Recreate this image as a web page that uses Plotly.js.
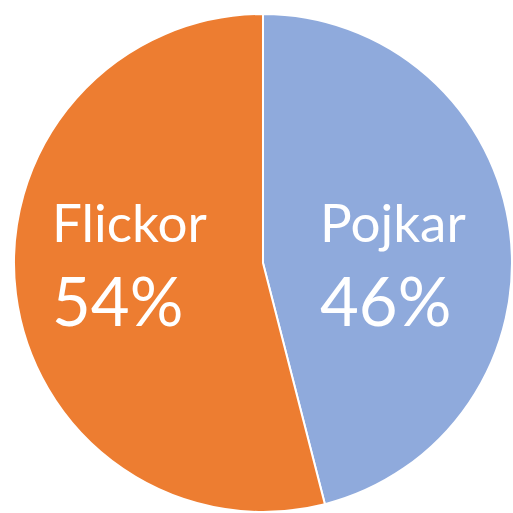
<!DOCTYPE html>
<html>
<head>
<meta charset="utf-8">
<script src="https://cdn.plot.ly/plotly-3.0.1.min.js"></script>
<style>
  html, body { margin: 0; padding: 0; background: #fff; }
  #chart { width: 513px; height: 513px; }
</style>
</head>
<body>
<div id="chart"></div>
<script>
const labels = ["Pojkar", "Flickor"];
const values = [46, 54];
const colors = ["#8FAADC", "#ED7D31"];

// left edge of each slice's text block (paper coords)
const textX = [0.6198, 0.0984];

let pie = {
  type: "pie",
  labels: labels,
  values: values,
  sort: false,
  direction: "clockwise",
  rotation: 0,
  marker: {
    colors: colors,
    line: { color: "#ffffff", width: 2 },
  },
  textinfo: "none",
  hoverinfo: "none",
  domain: { x: [0.0273, 0.998], y: [0.002, 0.9727] },
};

let annotations = [];
for (let i = 0; i < labels.length; i++) {
  // label line
  annotations.push({
    xref: "paper",
    yref: "paper",
    x: textX[i],
    y: 0.5684,
    xanchor: "left",
    yanchor: "middle",
    showarrow: false,
    text: labels[i],
    font: { family: "Lato, sans-serif", size: 53, color: "#ffffff" },
  });
  // percent line
  annotations.push({
    xref: "paper",
    yref: "paper",
    x: textX[i],
    y: 0.4144,
    xanchor: "left",
    yanchor: "middle",
    showarrow: false,
    text: values[i] + "%",
    font: { family: "Lato, sans-serif", size: 67, color: "#ffffff" },
  });
}

let layout = {
  width: 513,
  height: 513,
  margin: { l: 0, r: 0, t: 0, b: 0 },
  showlegend: false,
  paper_bgcolor: "#ffffff",
  annotations: annotations,
};

Plotly.newPlot("chart", [pie], layout, { displayModeBar: false, staticPlot: true });
</script>
</body>
</html>
